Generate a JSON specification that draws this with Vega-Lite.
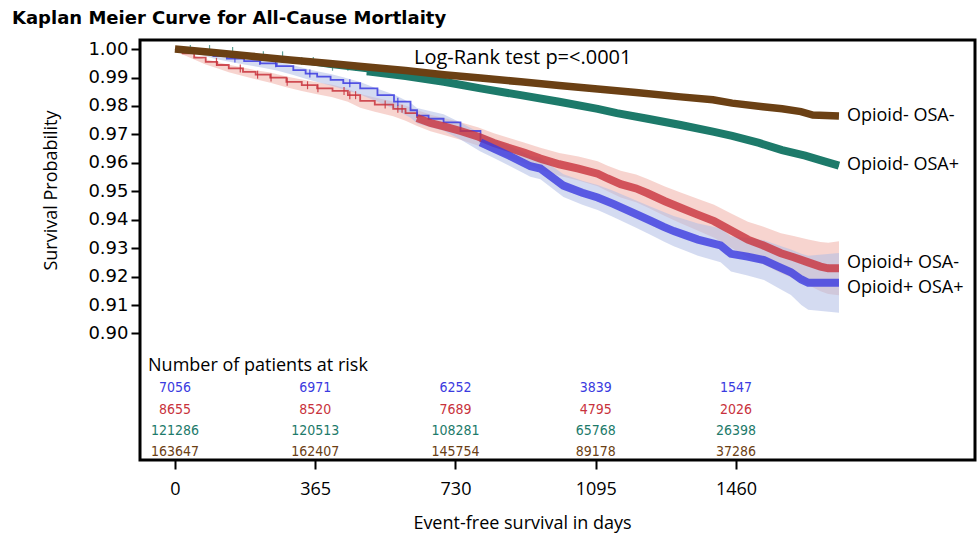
{
  "$schema": "https://vega.github.io/schema/vega-lite/v6.json",
  "width": 835,
  "height": 420,
  "autosize": "none",
  "padding": {"left": 140, "top": 40, "right": 2, "bottom": 75},
  "background": "white",
  "config": {
    "view": {"stroke": "black", "strokeWidth": 3},
    "axis": {"grid": false, "domain": false, "labelColor": "black", "titleColor": "black", "tickColor": "black"}
  },
  "title": {
    "text": "Kaplan Meier Curve for All-Cause Mortlaity",
    "anchor": "start",
    "frame": "group",
    "dx": -128,
    "offset": 6,
    "font": "DejaVu Sans",
    "fontSize": 18,
    "fontWeight": "bold",
    "color": "black"
  },
  "datasets": {
    "curves": [
      {"group": "Opioid+ OSA-", "day": 0, "s": 1.0},
      {"group": "Opioid+ OSA-", "day": 20, "s": 0.9985},
      {"group": "Opioid+ OSA-", "day": 50, "s": 0.997},
      {"group": "Opioid+ OSA-", "day": 80, "s": 0.9955},
      {"group": "Opioid+ OSA-", "day": 110, "s": 0.9944},
      {"group": "Opioid+ OSA-", "day": 140, "s": 0.9932},
      {"group": "Opioid+ OSA-", "day": 177, "s": 0.992},
      {"group": "Opioid+ OSA-", "day": 210, "s": 0.991},
      {"group": "Opioid+ OSA-", "day": 248, "s": 0.99},
      {"group": "Opioid+ OSA-", "day": 290, "s": 0.9885},
      {"group": "Opioid+ OSA-", "day": 330, "s": 0.9873},
      {"group": "Opioid+ OSA-", "day": 370, "s": 0.9862},
      {"group": "Opioid+ OSA-", "day": 410, "s": 0.9853},
      {"group": "Opioid+ OSA-", "day": 450, "s": 0.9838},
      {"group": "Opioid+ OSA-", "day": 482, "s": 0.9818},
      {"group": "Opioid+ OSA-", "day": 520, "s": 0.9805},
      {"group": "Opioid+ OSA-", "day": 568, "s": 0.979},
      {"group": "Opioid+ OSA-", "day": 600, "s": 0.9775},
      {"group": "Opioid+ OSA-", "day": 630, "s": 0.9758},
      {"group": "Opioid+ OSA-", "day": 665, "s": 0.974},
      {"group": "Opioid+ OSA-", "day": 700, "s": 0.9728},
      {"group": "Opioid+ OSA-", "day": 743, "s": 0.9712},
      {"group": "Opioid+ OSA-", "day": 790, "s": 0.9692},
      {"group": "Opioid+ OSA-", "day": 830, "s": 0.967},
      {"group": "Opioid+ OSA-", "day": 870, "s": 0.9652},
      {"group": "Opioid+ OSA-", "day": 910, "s": 0.9635},
      {"group": "Opioid+ OSA-", "day": 951, "s": 0.9615},
      {"group": "Opioid+ OSA-", "day": 1000, "s": 0.9595},
      {"group": "Opioid+ OSA-", "day": 1050, "s": 0.958},
      {"group": "Opioid+ OSA-", "day": 1100, "s": 0.9562},
      {"group": "Opioid+ OSA-", "day": 1126, "s": 0.9545},
      {"group": "Opioid+ OSA-", "day": 1160, "s": 0.9525},
      {"group": "Opioid+ OSA-", "day": 1200, "s": 0.951},
      {"group": "Opioid+ OSA-", "day": 1230, "s": 0.9493},
      {"group": "Opioid+ OSA-", "day": 1275, "s": 0.9465},
      {"group": "Opioid+ OSA-", "day": 1316, "s": 0.9442},
      {"group": "Opioid+ OSA-", "day": 1360, "s": 0.9418},
      {"group": "Opioid+ OSA-", "day": 1403, "s": 0.9395},
      {"group": "Opioid+ OSA-", "day": 1450, "s": 0.936},
      {"group": "Opioid+ OSA-", "day": 1491, "s": 0.933},
      {"group": "Opioid+ OSA-", "day": 1530, "s": 0.931},
      {"group": "Opioid+ OSA-", "day": 1577, "s": 0.9282},
      {"group": "Opioid+ OSA-", "day": 1610, "s": 0.9268},
      {"group": "Opioid+ OSA-", "day": 1648, "s": 0.925},
      {"group": "Opioid+ OSA-", "day": 1680, "s": 0.9235},
      {"group": "Opioid+ OSA-", "day": 1700, "s": 0.9229},
      {"group": "Opioid+ OSA-", "day": 1728, "s": 0.9229},

      {"group": "Opioid+ OSA+", "day": 0, "s": 1.0},
      {"group": "Opioid+ OSA+", "day": 30, "s": 0.9995},
      {"group": "Opioid+ OSA+", "day": 70, "s": 0.9985},
      {"group": "Opioid+ OSA+", "day": 100, "s": 0.9975},
      {"group": "Opioid+ OSA+", "day": 135, "s": 0.9967},
      {"group": "Opioid+ OSA+", "day": 180, "s": 0.9958},
      {"group": "Opioid+ OSA+", "day": 222, "s": 0.995},
      {"group": "Opioid+ OSA+", "day": 265, "s": 0.994},
      {"group": "Opioid+ OSA+", "day": 308, "s": 0.9926},
      {"group": "Opioid+ OSA+", "day": 340, "s": 0.9914},
      {"group": "Opioid+ OSA+", "day": 370, "s": 0.9903},
      {"group": "Opioid+ OSA+", "day": 405, "s": 0.9892},
      {"group": "Opioid+ OSA+", "day": 438, "s": 0.988},
      {"group": "Opioid+ OSA+", "day": 482, "s": 0.9862},
      {"group": "Opioid+ OSA+", "day": 527, "s": 0.9838},
      {"group": "Opioid+ OSA+", "day": 570, "s": 0.9815},
      {"group": "Opioid+ OSA+", "day": 613, "s": 0.9785},
      {"group": "Opioid+ OSA+", "day": 630, "s": 0.9766},
      {"group": "Opioid+ OSA+", "day": 660, "s": 0.9755},
      {"group": "Opioid+ OSA+", "day": 699, "s": 0.9742},
      {"group": "Opioid+ OSA+", "day": 743, "s": 0.9712},
      {"group": "Opioid+ OSA+", "day": 795, "s": 0.9672},
      {"group": "Opioid+ OSA+", "day": 830, "s": 0.965},
      {"group": "Opioid+ OSA+", "day": 870, "s": 0.9625},
      {"group": "Opioid+ OSA+", "day": 925, "s": 0.9588},
      {"group": "Opioid+ OSA+", "day": 951, "s": 0.958},
      {"group": "Opioid+ OSA+", "day": 1011, "s": 0.952},
      {"group": "Opioid+ OSA+", "day": 1060, "s": 0.9495},
      {"group": "Opioid+ OSA+", "day": 1100, "s": 0.9478},
      {"group": "Opioid+ OSA+", "day": 1142, "s": 0.9455},
      {"group": "Opioid+ OSA+", "day": 1200, "s": 0.942},
      {"group": "Opioid+ OSA+", "day": 1240, "s": 0.9395},
      {"group": "Opioid+ OSA+", "day": 1272, "s": 0.9375},
      {"group": "Opioid+ OSA+", "day": 1298, "s": 0.936},
      {"group": "Opioid+ OSA+", "day": 1330, "s": 0.9345},
      {"group": "Opioid+ OSA+", "day": 1361, "s": 0.933},
      {"group": "Opioid+ OSA+", "day": 1420, "s": 0.931},
      {"group": "Opioid+ OSA+", "day": 1447, "s": 0.928},
      {"group": "Opioid+ OSA+", "day": 1490, "s": 0.927},
      {"group": "Opioid+ OSA+", "day": 1533, "s": 0.9258},
      {"group": "Opioid+ OSA+", "day": 1570, "s": 0.9235},
      {"group": "Opioid+ OSA+", "day": 1603, "s": 0.9215},
      {"group": "Opioid+ OSA+", "day": 1630, "s": 0.919},
      {"group": "Opioid+ OSA+", "day": 1648, "s": 0.9178},
      {"group": "Opioid+ OSA+", "day": 1728, "s": 0.9178},

      {"group": "Opioid- OSA+", "day": 0, "s": 1.0},
      {"group": "Opioid- OSA+", "day": 100, "s": 0.9993},
      {"group": "Opioid- OSA+", "day": 200, "s": 0.9978},
      {"group": "Opioid- OSA+", "day": 300, "s": 0.9958},
      {"group": "Opioid- OSA+", "day": 400, "s": 0.9938},
      {"group": "Opioid- OSA+", "day": 500, "s": 0.9922},
      {"group": "Opioid- OSA+", "day": 600, "s": 0.9905},
      {"group": "Opioid- OSA+", "day": 700, "s": 0.9885},
      {"group": "Opioid- OSA+", "day": 795, "s": 0.9862},
      {"group": "Opioid- OSA+", "day": 900, "s": 0.9838},
      {"group": "Opioid- OSA+", "day": 1000, "s": 0.9815},
      {"group": "Opioid- OSA+", "day": 1100, "s": 0.979},
      {"group": "Opioid- OSA+", "day": 1150, "s": 0.9775},
      {"group": "Opioid- OSA+", "day": 1230, "s": 0.9755},
      {"group": "Opioid- OSA+", "day": 1316, "s": 0.9733},
      {"group": "Opioid- OSA+", "day": 1400, "s": 0.971},
      {"group": "Opioid- OSA+", "day": 1450, "s": 0.9695},
      {"group": "Opioid- OSA+", "day": 1520, "s": 0.967},
      {"group": "Opioid- OSA+", "day": 1580, "s": 0.9645},
      {"group": "Opioid- OSA+", "day": 1640, "s": 0.9625},
      {"group": "Opioid- OSA+", "day": 1690, "s": 0.9605},
      {"group": "Opioid- OSA+", "day": 1728, "s": 0.959},

      {"group": "Opioid- OSA-", "day": 0, "s": 1.0},
      {"group": "Opioid- OSA-", "day": 100, "s": 0.9988},
      {"group": "Opioid- OSA-", "day": 200, "s": 0.9975},
      {"group": "Opioid- OSA-", "day": 300, "s": 0.9962},
      {"group": "Opioid- OSA-", "day": 396, "s": 0.995},
      {"group": "Opioid- OSA-", "day": 500, "s": 0.9937},
      {"group": "Opioid- OSA-", "day": 600, "s": 0.9925},
      {"group": "Opioid- OSA-", "day": 700, "s": 0.991},
      {"group": "Opioid- OSA-", "day": 795, "s": 0.9898},
      {"group": "Opioid- OSA-", "day": 900, "s": 0.9885},
      {"group": "Opioid- OSA-", "day": 1000, "s": 0.9872},
      {"group": "Opioid- OSA-", "day": 1100, "s": 0.986},
      {"group": "Opioid- OSA-", "day": 1200, "s": 0.9847},
      {"group": "Opioid- OSA-", "day": 1316, "s": 0.9832},
      {"group": "Opioid- OSA-", "day": 1400, "s": 0.9822},
      {"group": "Opioid- OSA-", "day": 1450, "s": 0.981},
      {"group": "Opioid- OSA-", "day": 1530, "s": 0.9797},
      {"group": "Opioid- OSA-", "day": 1580, "s": 0.979},
      {"group": "Opioid- OSA-", "day": 1629, "s": 0.978},
      {"group": "Opioid- OSA-", "day": 1660, "s": 0.9768},
      {"group": "Opioid- OSA-", "day": 1728, "s": 0.9765}
    ],
    "bands": [
      {"group": "Opioid+ OSA-", "day": 0, "lo": 1.0, "hi": 1.0},
      {"group": "Opioid+ OSA-", "day": 20, "lo": 0.9981, "hi": 0.9989},
      {"group": "Opioid+ OSA-", "day": 50, "lo": 0.9963, "hi": 0.9977},
      {"group": "Opioid+ OSA-", "day": 80, "lo": 0.9946, "hi": 0.9964},
      {"group": "Opioid+ OSA-", "day": 110, "lo": 0.9933, "hi": 0.9955},
      {"group": "Opioid+ OSA-", "day": 140, "lo": 0.9919, "hi": 0.9945},
      {"group": "Opioid+ OSA-", "day": 177, "lo": 0.9905, "hi": 0.9935},
      {"group": "Opioid+ OSA-", "day": 210, "lo": 0.9894, "hi": 0.9926},
      {"group": "Opioid+ OSA-", "day": 248, "lo": 0.9882, "hi": 0.9918},
      {"group": "Opioid+ OSA-", "day": 290, "lo": 0.9866, "hi": 0.9904},
      {"group": "Opioid+ OSA-", "day": 330, "lo": 0.9853, "hi": 0.9893},
      {"group": "Opioid+ OSA-", "day": 370, "lo": 0.9841, "hi": 0.9883},
      {"group": "Opioid+ OSA-", "day": 410, "lo": 0.9831, "hi": 0.9875},
      {"group": "Opioid+ OSA-", "day": 450, "lo": 0.9815, "hi": 0.9861},
      {"group": "Opioid+ OSA-", "day": 482, "lo": 0.9794, "hi": 0.9842},
      {"group": "Opioid+ OSA-", "day": 520, "lo": 0.978, "hi": 0.983},
      {"group": "Opioid+ OSA-", "day": 568, "lo": 0.9764, "hi": 0.9816},
      {"group": "Opioid+ OSA-", "day": 600, "lo": 0.9748, "hi": 0.9802},
      {"group": "Opioid+ OSA-", "day": 630, "lo": 0.973, "hi": 0.9786},
      {"group": "Opioid+ OSA-", "day": 665, "lo": 0.9711, "hi": 0.9769},
      {"group": "Opioid+ OSA-", "day": 700, "lo": 0.9698, "hi": 0.9758},
      {"group": "Opioid+ OSA-", "day": 743, "lo": 0.9681, "hi": 0.9743},
      {"group": "Opioid+ OSA-", "day": 790, "lo": 0.966, "hi": 0.9724},
      {"group": "Opioid+ OSA-", "day": 830, "lo": 0.9636, "hi": 0.9704},
      {"group": "Opioid+ OSA-", "day": 870, "lo": 0.9617, "hi": 0.9687},
      {"group": "Opioid+ OSA-", "day": 910, "lo": 0.9599, "hi": 0.9671},
      {"group": "Opioid+ OSA-", "day": 951, "lo": 0.9577, "hi": 0.9653},
      {"group": "Opioid+ OSA-", "day": 1000, "lo": 0.9555, "hi": 0.9635},
      {"group": "Opioid+ OSA-", "day": 1050, "lo": 0.9538, "hi": 0.9622},
      {"group": "Opioid+ OSA-", "day": 1100, "lo": 0.9518, "hi": 0.9606},
      {"group": "Opioid+ OSA-", "day": 1126, "lo": 0.95, "hi": 0.959},
      {"group": "Opioid+ OSA-", "day": 1160, "lo": 0.9478, "hi": 0.9572},
      {"group": "Opioid+ OSA-", "day": 1200, "lo": 0.9461, "hi": 0.9559},
      {"group": "Opioid+ OSA-", "day": 1230, "lo": 0.9443, "hi": 0.9543},
      {"group": "Opioid+ OSA-", "day": 1275, "lo": 0.9413, "hi": 0.9517},
      {"group": "Opioid+ OSA-", "day": 1316, "lo": 0.9388, "hi": 0.9496},
      {"group": "Opioid+ OSA-", "day": 1360, "lo": 0.9362, "hi": 0.9474},
      {"group": "Opioid+ OSA-", "day": 1403, "lo": 0.9337, "hi": 0.9453},
      {"group": "Opioid+ OSA-", "day": 1450, "lo": 0.93, "hi": 0.942},
      {"group": "Opioid+ OSA-", "day": 1491, "lo": 0.9267, "hi": 0.9393},
      {"group": "Opioid+ OSA-", "day": 1530, "lo": 0.9244, "hi": 0.9376},
      {"group": "Opioid+ OSA-", "day": 1577, "lo": 0.9212, "hi": 0.9352},
      {"group": "Opioid+ OSA-", "day": 1610, "lo": 0.9193, "hi": 0.9343},
      {"group": "Opioid+ OSA-", "day": 1648, "lo": 0.917, "hi": 0.933},
      {"group": "Opioid+ OSA-", "day": 1680, "lo": 0.9148, "hi": 0.9322},
      {"group": "Opioid+ OSA-", "day": 1700, "lo": 0.9139, "hi": 0.9319},
      {"group": "Opioid+ OSA-", "day": 1728, "lo": 0.9134, "hi": 0.9324},

      {"group": "Opioid+ OSA+", "day": 0, "lo": 1.0, "hi": 1.0},
      {"group": "Opioid+ OSA+", "day": 30, "lo": 0.9992, "hi": 0.9998},
      {"group": "Opioid+ OSA+", "day": 70, "lo": 0.9979, "hi": 0.9991},
      {"group": "Opioid+ OSA+", "day": 100, "lo": 0.9967, "hi": 0.9983},
      {"group": "Opioid+ OSA+", "day": 135, "lo": 0.9957, "hi": 0.9977},
      {"group": "Opioid+ OSA+", "day": 180, "lo": 0.9946, "hi": 0.997},
      {"group": "Opioid+ OSA+", "day": 222, "lo": 0.9936, "hi": 0.9964},
      {"group": "Opioid+ OSA+", "day": 265, "lo": 0.9925, "hi": 0.9955},
      {"group": "Opioid+ OSA+", "day": 308, "lo": 0.9909, "hi": 0.9943},
      {"group": "Opioid+ OSA+", "day": 340, "lo": 0.9896, "hi": 0.9932},
      {"group": "Opioid+ OSA+", "day": 370, "lo": 0.9884, "hi": 0.9922},
      {"group": "Opioid+ OSA+", "day": 405, "lo": 0.9872, "hi": 0.9912},
      {"group": "Opioid+ OSA+", "day": 438, "lo": 0.9859, "hi": 0.9901},
      {"group": "Opioid+ OSA+", "day": 482, "lo": 0.984, "hi": 0.9884},
      {"group": "Opioid+ OSA+", "day": 527, "lo": 0.9815, "hi": 0.9861},
      {"group": "Opioid+ OSA+", "day": 570, "lo": 0.979, "hi": 0.984},
      {"group": "Opioid+ OSA+", "day": 613, "lo": 0.9759, "hi": 0.9811},
      {"group": "Opioid+ OSA+", "day": 630, "lo": 0.9739, "hi": 0.9793},
      {"group": "Opioid+ OSA+", "day": 660, "lo": 0.9727, "hi": 0.9783},
      {"group": "Opioid+ OSA+", "day": 699, "lo": 0.9713, "hi": 0.9771},
      {"group": "Opioid+ OSA+", "day": 743, "lo": 0.9682, "hi": 0.9742},
      {"group": "Opioid+ OSA+", "day": 795, "lo": 0.964, "hi": 0.9704},
      {"group": "Opioid+ OSA+", "day": 830, "lo": 0.9617, "hi": 0.9683},
      {"group": "Opioid+ OSA+", "day": 870, "lo": 0.959, "hi": 0.966},
      {"group": "Opioid+ OSA+", "day": 925, "lo": 0.9551, "hi": 0.9625},
      {"group": "Opioid+ OSA+", "day": 951, "lo": 0.9542, "hi": 0.9618},
      {"group": "Opioid+ OSA+", "day": 1011, "lo": 0.948, "hi": 0.956},
      {"group": "Opioid+ OSA+", "day": 1060, "lo": 0.9453, "hi": 0.9537},
      {"group": "Opioid+ OSA+", "day": 1100, "lo": 0.9434, "hi": 0.9522},
      {"group": "Opioid+ OSA+", "day": 1142, "lo": 0.9409, "hi": 0.9501},
      {"group": "Opioid+ OSA+", "day": 1200, "lo": 0.9372, "hi": 0.9468},
      {"group": "Opioid+ OSA+", "day": 1240, "lo": 0.9345, "hi": 0.9445},
      {"group": "Opioid+ OSA+", "day": 1272, "lo": 0.9323, "hi": 0.9427},
      {"group": "Opioid+ OSA+", "day": 1298, "lo": 0.9307, "hi": 0.9413},
      {"group": "Opioid+ OSA+", "day": 1330, "lo": 0.929, "hi": 0.94},
      {"group": "Opioid+ OSA+", "day": 1361, "lo": 0.9273, "hi": 0.9387},
      {"group": "Opioid+ OSA+", "day": 1420, "lo": 0.925, "hi": 0.937},
      {"group": "Opioid+ OSA+", "day": 1447, "lo": 0.9218, "hi": 0.9342},
      {"group": "Opioid+ OSA+", "day": 1490, "lo": 0.9204, "hi": 0.9336},
      {"group": "Opioid+ OSA+", "day": 1533, "lo": 0.9188, "hi": 0.9328},
      {"group": "Opioid+ OSA+", "day": 1570, "lo": 0.916, "hi": 0.931},
      {"group": "Opioid+ OSA+", "day": 1603, "lo": 0.9135, "hi": 0.9295},
      {"group": "Opioid+ OSA+", "day": 1630, "lo": 0.91, "hi": 0.928},
      {"group": "Opioid+ OSA+", "day": 1648, "lo": 0.9083, "hi": 0.9273},
      {"group": "Opioid+ OSA+", "day": 1728, "lo": 0.9073, "hi": 0.9283}
    ],
    "censor": [
      {"group": "Opioid- OSA+", "day": 40, "s": 1.0},
      {"group": "Opioid- OSA+", "day": 90, "s": 1.0},
      {"group": "Opioid- OSA+", "day": 150, "s": 0.9993},
      {"group": "Opioid- OSA+", "day": 230, "s": 0.9978},
      {"group": "Opioid- OSA+", "day": 280, "s": 0.9978},
      {"group": "Opioid- OSA+", "day": 330, "s": 0.9958},
      {"group": "Opioid- OSA+", "day": 360, "s": 0.9958},
      {"group": "Opioid- OSA+", "day": 410, "s": 0.9938},
      {"group": "Opioid- OSA+", "day": 450, "s": 0.9938},
      {"group": "Opioid- OSA+", "day": 470, "s": 0.9938},
      {"group": "Opioid- OSA+", "day": 500, "s": 0.9922},
      {"group": "Opioid- OSA+", "day": 520, "s": 0.9922},
      {"group": "Opioid+ OSA-", "day": 108, "s": 0.9955},
      {"group": "Opioid+ OSA-", "day": 170, "s": 0.9932},
      {"group": "Opioid+ OSA-", "day": 215, "s": 0.991},
      {"group": "Opioid+ OSA-", "day": 250, "s": 0.99},
      {"group": "Opioid+ OSA-", "day": 292, "s": 0.9885},
      {"group": "Opioid+ OSA-", "day": 345, "s": 0.9873},
      {"group": "Opioid+ OSA-", "day": 372, "s": 0.9862},
      {"group": "Opioid+ OSA-", "day": 440, "s": 0.9853},
      {"group": "Opioid+ OSA-", "day": 455, "s": 0.9838},
      {"group": "Opioid+ OSA-", "day": 470, "s": 0.9838},
      {"group": "Opioid+ OSA-", "day": 547, "s": 0.9805},
      {"group": "Opioid+ OSA-", "day": 580, "s": 0.979},
      {"group": "Opioid+ OSA-", "day": 591, "s": 0.979},
      {"group": "Opioid+ OSA+", "day": 156, "s": 0.9967},
      {"group": "Opioid+ OSA+", "day": 221, "s": 0.9958},
      {"group": "Opioid+ OSA+", "day": 262, "s": 0.995},
      {"group": "Opioid+ OSA+", "day": 351, "s": 0.9914},
      {"group": "Opioid+ OSA+", "day": 455, "s": 0.988},
      {"group": "Opioid+ OSA+", "day": 580, "s": 0.9815}
    ],
    "risk": [
      {"group": "Opioid+ OSA+", "day": 0, "n": "7056"},
      {"group": "Opioid+ OSA+", "day": 365, "n": "6971"},
      {"group": "Opioid+ OSA+", "day": 730, "n": "6252"},
      {"group": "Opioid+ OSA+", "day": 1095, "n": "3839"},
      {"group": "Opioid+ OSA+", "day": 1460, "n": "1547"},
      {"group": "Opioid+ OSA-", "day": 0, "n": "8655"},
      {"group": "Opioid+ OSA-", "day": 365, "n": "8520"},
      {"group": "Opioid+ OSA-", "day": 730, "n": "7689"},
      {"group": "Opioid+ OSA-", "day": 1095, "n": "4795"},
      {"group": "Opioid+ OSA-", "day": 1460, "n": "2026"},
      {"group": "Opioid- OSA+", "day": 0, "n": "121286"},
      {"group": "Opioid- OSA+", "day": 365, "n": "120513"},
      {"group": "Opioid- OSA+", "day": 730, "n": "108281"},
      {"group": "Opioid- OSA+", "day": 1095, "n": "65768"},
      {"group": "Opioid- OSA+", "day": 1460, "n": "26398"},
      {"group": "Opioid- OSA-", "day": 0, "n": "163647"},
      {"group": "Opioid- OSA-", "day": 365, "n": "162407"},
      {"group": "Opioid- OSA-", "day": 730, "n": "145754"},
      {"group": "Opioid- OSA-", "day": 1095, "n": "89178"},
      {"group": "Opioid- OSA-", "day": 1460, "n": "37286"}
    ],
    "labels": [
      {"group": "Opioid- OSA-", "day": 1728, "s": 0.9766},
      {"group": "Opioid- OSA+", "day": 1728, "s": 0.9593},
      {"group": "Opioid+ OSA-", "day": 1728, "s": 0.9249},
      {"group": "Opioid+ OSA+", "day": 1728, "s": 0.9161}
    ]
  },
  "layer": [
    {
      "encoding": {
        "x": {
          "field": "day", "type": "quantitative",
          "title": "Event-free survival in days",
          "scale": {"domain": [-91, 2082], "nice": false, "zero": false},
          "axis": {
            "values": [0, 365, 730, 1095, 1460],
            "format": "d",
            "tickSize": 9, "tickWidth": 2,
            "labelFont": "Open Sans", "labelFontSize": 18, "labelPadding": 11,
            "titleFont": "Open Sans", "titleFontSize": 18, "titleFontWeight": "normal",
            "titlePadding": 16, "titleX": 382
          }
        },
        "y": {
          "field": "s", "type": "quantitative",
          "title": "Survival Probability",
          "scale": {"domain": [0.8555, 1.0032], "nice": false, "zero": false},
          "axis": {
            "values": [0.9, 0.91, 0.92, 0.93, 0.94, 0.95, 0.96, 0.97, 0.98, 0.99, 1.0],
            "format": ".2f",
            "tickSize": 9, "tickWidth": 2,
            "labelFont": "DejaVu Sans", "labelFontSize": 18, "labelPadding": 3,
            "titleFont": "Open Sans", "titleFontSize": 18, "titleFontWeight": "normal",
            "titleX": -80, "titleY": 150
          }
        }
      },
      "layer": [
        {
          "data": {"name": "bands"},
          "mark": {"type": "area", "interpolate": "linear", "opacity": 0.55},
          "encoding": {
            "y": {"field": "lo", "type": "quantitative", "title": "Survival Probability"},
            "y2": {"field": "hi"},
            "fill": {
              "field": "group", "type": "nominal",
              "scale": {"domain": ["Opioid+ OSA-", "Opioid+ OSA+"], "range": ["#f0b0a8", "#b0bde6"]},
              "legend": null
            },
            "detail": {"field": "group"}
          }
        },
        {
          "data": {"name": "curves"},
          "transform": [{"filter": "(datum.group === 'Opioid+ OSA-' && datum.day <= 630) || (datum.group === 'Opioid+ OSA+' && datum.day <= 795)"}],
          "mark": {"type": "line", "interpolate": "step-after", "strokeWidth": 1.8, "opacity": 0.85},
          "encoding": {
            "color": {
              "field": "group", "type": "nominal",
              "scale": {"domain": ["Opioid+ OSA+", "Opioid+ OSA-", "Opioid- OSA+", "Opioid- OSA-"], "range": ["#3a3ae0", "#c8323c", "#1d7a6a", "#6b4014"]},
              "legend": null
            }
          }
        },
        {
          "data": {"name": "curves"},
          "transform": [{"filter": "(datum.group === 'Opioid+ OSA-' && datum.day >= 630) || (datum.group === 'Opioid+ OSA+' && datum.day >= 795)"}],
          "mark": {"type": "line", "interpolate": "linear", "strokeWidth": 8, "opacity": 0.8},
          "encoding": {
            "color": {"field": "group", "type": "nominal", "legend": null}
          }
        },
        {
          "data": {"name": "censor"},
          "transform": [{"filter": "datum.group !== 'Opioid- OSA+'"}],
          "mark": {"type": "point", "shape": "M0,-1L0,1", "size": 64, "filled": false, "strokeWidth": 1.2, "opacity": 0.85},
          "encoding": {
            "color": {"field": "group", "type": "nominal", "legend": null}
          }
        },
        {
          "data": {"name": "curves"},
          "transform": [{"filter": "datum.group === 'Opioid- OSA+'"}],
          "mark": {"type": "line", "interpolate": "linear", "strokeWidth": 2},
          "encoding": {
            "color": {"field": "group", "type": "nominal", "legend": null}
          }
        },
        {
          "data": {"name": "censor"},
          "transform": [{"filter": "datum.group === 'Opioid- OSA+'"}],
          "mark": {"type": "point", "shape": "M0,-1L0,1", "size": 64, "filled": false, "strokeWidth": 1.2},
          "encoding": {
            "color": {"field": "group", "type": "nominal", "legend": null}
          }
        },
        {
          "data": {"name": "curves"},
          "transform": [{"filter": "datum.group === 'Opioid- OSA+' && datum.day >= 500"}],
          "mark": {"type": "line", "interpolate": "linear", "strokeWidth": 8},
          "encoding": {
            "color": {"field": "group", "type": "nominal", "legend": null}
          }
        },
        {
          "data": {"name": "curves"},
          "transform": [{"filter": "datum.group === 'Opioid- OSA-'"}],
          "mark": {"type": "line", "interpolate": "linear", "strokeWidth": 7.5},
          "encoding": {
            "color": {"field": "group", "type": "nominal", "legend": null}
          }
        },
        {
          "data": {"name": "labels"},
          "mark": {"type": "text", "align": "left", "baseline": "middle", "dx": 8, "font": "Open Sans", "fontSize": 18, "color": "black"},
          "encoding": {
            "text": {"field": "group"}
          }
        }
      ]
    },
    {
      "data": {"name": "risk"},
      "transform": [{"filter": "datum.group === 'Opioid+ OSA+'"}],
      "mark": {"type": "text", "align": "center", "baseline": "middle", "font": "Liberation Sans Narrow, DejaVu Sans Condensed", "fontSize": 14},
      "encoding": {
        "x": {"field": "day", "type": "quantitative", "title": "Event-free survival in days"},
        "y": {"datum": 0.8808, "type": "quantitative", "title": "Survival Probability"},
        "text": {"field": "n"},
        "color": {"field": "group", "type": "nominal", "legend": null}
      }
    },
    {
      "data": {"name": "risk"},
      "transform": [{"filter": "datum.group === 'Opioid+ OSA-'"}],
      "mark": {"type": "text", "align": "center", "baseline": "middle", "font": "Liberation Sans Narrow, DejaVu Sans Condensed", "fontSize": 14},
      "encoding": {
        "x": {"field": "day", "type": "quantitative", "title": "Event-free survival in days"},
        "y": {"datum": 0.8731, "type": "quantitative", "title": "Survival Probability"},
        "text": {"field": "n"},
        "color": {"field": "group", "type": "nominal", "legend": null}
      }
    },
    {
      "data": {"name": "risk"},
      "transform": [{"filter": "datum.group === 'Opioid- OSA+'"}],
      "mark": {"type": "text", "align": "center", "baseline": "middle", "font": "Liberation Sans Narrow, DejaVu Sans Condensed", "fontSize": 14},
      "encoding": {
        "x": {"field": "day", "type": "quantitative", "title": "Event-free survival in days"},
        "y": {"datum": 0.8657, "type": "quantitative", "title": "Survival Probability"},
        "text": {"field": "n"},
        "color": {"field": "group", "type": "nominal", "legend": null}
      }
    },
    {
      "data": {"name": "risk"},
      "transform": [{"filter": "datum.group === 'Opioid- OSA-'"}],
      "mark": {"type": "text", "align": "center", "baseline": "middle", "font": "Liberation Sans Narrow, DejaVu Sans Condensed", "fontSize": 14},
      "encoding": {
        "x": {"field": "day", "type": "quantitative", "title": "Event-free survival in days"},
        "y": {"datum": 0.8583, "type": "quantitative", "title": "Survival Probability"},
        "text": {"field": "n"},
        "color": {"field": "group", "type": "nominal", "legend": null}
      }
    },
    {
      "data": {"values": [{"t": "Log-Rank test p=<.0001"}]},
      "mark": {"type": "text", "align": "center", "baseline": "middle", "font": "Open Sans", "fontSize": 20, "color": "black"},
      "encoding": {
        "x": {"datum": 905, "type": "quantitative", "title": "Event-free survival in days"},
        "y": {"datum": 0.9968, "type": "quantitative", "title": "Survival Probability"},
        "text": {"field": "t"}
      }
    },
    {
      "data": {"values": [{"t": "Number of patients at risk"}]},
      "mark": {"type": "text", "align": "left", "baseline": "middle", "font": "Open Sans", "fontSize": 18, "color": "black"},
      "encoding": {
        "x": {"datum": -70, "type": "quantitative", "title": "Event-free survival in days"},
        "y": {"datum": 0.8886, "type": "quantitative", "title": "Survival Probability"},
        "text": {"field": "t"}
      }
    }
  ]
}
